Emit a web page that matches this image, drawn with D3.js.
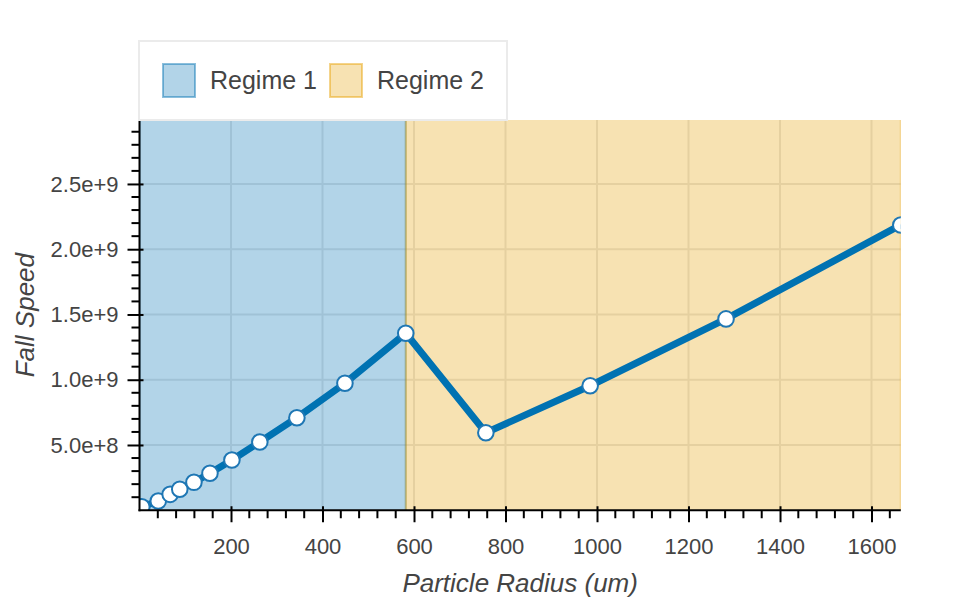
<!DOCTYPE html>
<html>
<head>
<meta charset="utf-8">
<script src="https://cdn.jsdelivr.net/npm/d3@7"></script>
<style>
  html, body { margin: 0; padding: 0; background: #fff; }
  svg { display: block; font-family: "Liberation Sans", Arial, Helvetica, sans-serif; }
</style>
</head>
<body>
<svg id="chart" width="960" height="600"></svg>
<script>
// ---- data ----
const radius = [5, 41, 67, 88, 119, 154, 202, 263, 344, 449, 582, 757, 985, 1282, 1664];
const fallSpeed = [2.7e7, 7.1e7, 1.22e8, 1.61e8, 2.14e8, 2.83e8, 3.85e8, 5.23e8, 7.09e8, 9.73e8,
                   1.356e9, 5.94e8, 9.54e8, 1.466e9, 2.186e9];
const regimeNames = ["Regime 1", "Regime 2"];
const regimeStart = [0, 582];
const regimeEnd = [582, 1664];
const regimeColors = ["#0072B2", "#E69F00"];
const xTicks = [200, 400, 600, 800, 1000, 1200, 1400, 1600];
const xTickLabels = ["200", "400", "600", "800", "1000", "1200", "1400", "1600"];
const yTicks = [5e8, 1e9, 1.5e9, 2e9, 2.5e9];
const yTickLabels = ["5.0e+8", "1.0e+9", "1.5e+9", "2.0e+9", "2.5e+9"];
const xDomain = [0, 1664];
const yDomain = [0, 2.99e9];

// ---- layout ----
const L = 139.5, R = 900.8, T = 120, B = 510.25;
const svg = d3.select("#chart");
const x = d3.scaleLinear().domain(xDomain).range([L, R]);
const y = d3.scaleLinear().domain(yDomain).range([B, T]);

svg.append("defs").append("clipPath").attr("id", "clip")
  .append("rect").attr("x", L).attr("y", T).attr("width", R - L).attr("height", B - T);

const plot = svg.append("g").attr("clip-path", "url(#clip)");

// grid
plot.append("g").selectAll("line").data(xTicks).join("line")
  .attr("x1", d => x(d)).attr("x2", d => x(d)).attr("y1", T).attr("y2", B)
  .attr("stroke", "#e5e5e5").attr("stroke-width", 2);
plot.append("g").selectAll("line").data(yTicks).join("line")
  .attr("y1", d => y(d)).attr("y2", d => y(d)).attr("x1", L).attr("x2", R)
  .attr("stroke", "#e5e5e5").attr("stroke-width", 2);

// regime boxes
const regimes = regimeNames.map((n, i) => ({ name: n, s: regimeStart[i], e: regimeEnd[i], c: regimeColors[i] }));
plot.append("g").selectAll("rect").data(regimes).join("rect")
  .attr("x", d => x(d.s)).attr("width", d => x(d.e) - x(d.s))
  .attr("y", T - 10).attr("height", B - T + 20)
  .attr("fill", d => d.c).attr("fill-opacity", 0.3)
  .attr("stroke", d => d.c).attr("stroke-opacity", 0.35).attr("stroke-width", 2);

// line + points
const pts = radius.map((r, i) => [r, fallSpeed[i]]);
plot.append("path").datum(pts)
  .attr("d", d3.line().x(d => x(d[0])).y(d => y(d[1])))
  .attr("fill", "none").attr("stroke", "#0072B2").attr("stroke-width", 7)
  .attr("stroke-linejoin", "miter");
plot.append("g").selectAll("circle").data(pts).join("circle")
  .attr("cx", d => x(d[0])).attr("cy", d => y(d[1])).attr("r", 7.8)
  .attr("fill", "#fff").attr("stroke", "#1f77b4").attr("stroke-width", 2);

// axes
const xAxis = d3.axisBottom(x).tickValues(xTicks).tickFormat((d, i) => xTickLabels[i])
  .tickSizeInner(12).tickSizeOuter(0).tickPadding(16);
const gx = svg.append("g").attr("transform", `translate(0,${B})`).call(xAxis);
const yAxis = d3.axisLeft(y).tickValues(yTicks).tickFormat((d, i) => yTickLabels[i])
  .tickSizeInner(12).tickSizeOuter(0).tickPadding(9);
const gy = svg.append("g").attr("transform", `translate(${L},0)`).call(yAxis);
gx.select(".domain").attr("d", `M${L - 1},0H${R}`);
gy.select(".domain").attr("d", `M0,${B + 1}V${T}`);
[gx, gy].forEach(g => {
  g.selectAll(".domain").attr("stroke", "#000").attr("stroke-width", 2);
  g.selectAll(".tick line").attr("stroke", "#000").attr("stroke-width", 2);
  g.selectAll(".tick text").attr("fill", "#444").attr("font-size", 22)
    .attr("font-family", "'Liberation Sans', Arial, Helvetica, sans-serif");
});
gx.selectAll(".tick line").attr("y1", -4);
gy.selectAll(".tick line").attr("x1", 4);

// minor ticks
const xMinor = d3.range(40, 1664, 40).filter(v => v % 200 !== 0);
const yMinor = d3.range(1e8, 2.99e9, 1e8).filter(v => Math.round(v / 1e8) % 5 !== 0);
svg.append("g").selectAll("line").data(xMinor).join("line")
  .attr("x1", d => x(d)).attr("x2", d => x(d)).attr("y1", B).attr("y2", B + 8)
  .attr("stroke", "#000").attr("stroke-width", 2);
svg.append("g").selectAll("line").data(yMinor).join("line")
  .attr("y1", d => y(d)).attr("y2", d => y(d)).attr("x1", L).attr("x2", L - 8)
  .attr("stroke", "#000").attr("stroke-width", 2);

// axis labels
svg.append("text").attr("x", (L + R) / 2).attr("y", 592).attr("text-anchor", "middle")
  .attr("font-size", 26).attr("font-style", "italic").attr("fill", "#444")
  .text("Particle Radius (um)");
svg.append("text").attr("transform", `translate(34,${(T + B) / 2}) rotate(-90)`)
  .attr("text-anchor", "middle").attr("font-size", 26).attr("font-style", "italic").attr("fill", "#444")
  .text("Fall Speed");

// legend
const lg = svg.append("g");
lg.append("rect").attr("x", 139).attr("y", 41).attr("width", 368).attr("height", 79)
  .attr("fill", "#fff").attr("stroke", "#ebebeb").attr("stroke-width", 2);
const itemX = [163, 330];
const items = lg.selectAll("g.item").data(regimes).join("g").attr("class", "item")
  .attr("transform", (d, i) => `translate(${itemX[i]},64)`);
items.append("rect").attr("x", 0).attr("y", 0).attr("width", 32).attr("height", 33)
  .attr("fill", d => d.c).attr("fill-opacity", 0.3)
  .attr("stroke", d => d.c).attr("stroke-opacity", 0.45).attr("stroke-width", 2);
items.append("text").attr("x", 47).attr("y", 25).attr("font-size", 25).attr("fill", "#444")
  .text(d => d.name);
</script>
</body>
</html>
